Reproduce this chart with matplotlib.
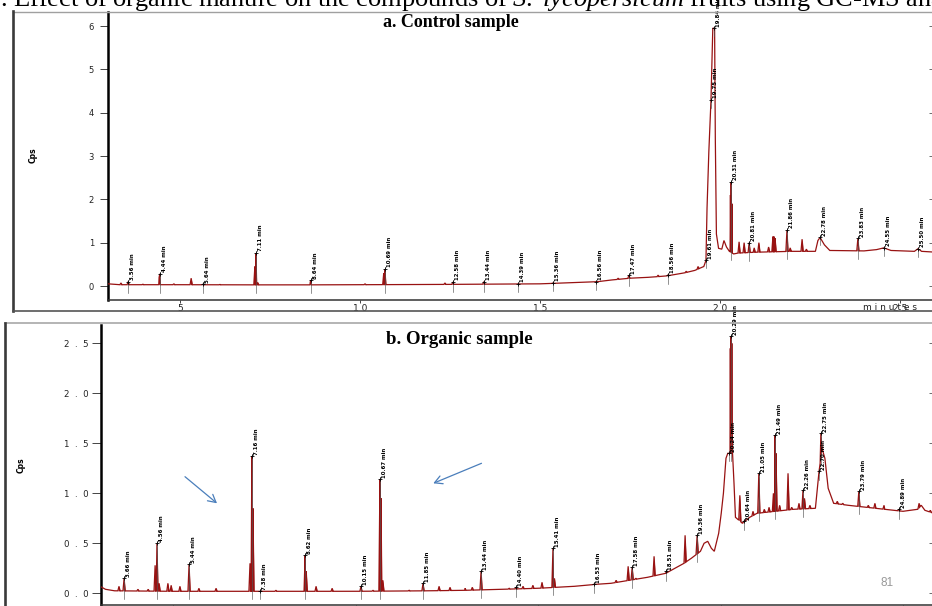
import numpy as np
import matplotlib
matplotlib.use("Agg")
import matplotlib.pyplot as plt
from matplotlib.lines import Line2D

# ---------------- data ----------------
# Panel a (control): broad envelope of the trace (minutes, Cps)
a_prof_t = [3.00, 3.30, 5.00, 8.00, 10.0, 12.0, 13.0, 14.0, 15.0, 16.0, 16.6, 17.0, 17.5,
            18.0, 18.5, 19.0, 19.3, 19.55, 19.61, 19.64, 19.69, 19.75, 19.80, 19.85, 19.87,
            19.90, 19.96, 20.05, 20.11, 20.18, 20.26, 20.38, 20.50, 21.0, 22.0, 22.65, 22.72,
            22.78, 22.90, 23.05, 24.0, 24.35, 24.55, 24.75, 25.40, 25.50, 25.60, 26.0]
a_prof_v = [0.05, 0.03, 0.03, 0.025, 0.03, 0.035, 0.04, 0.045, 0.05, 0.08, 0.10, 0.14, 0.18,
            0.20, 0.23, 0.30, 0.36, 0.45, 0.59, 1.80, 3.10, 4.30, 5.95, 5.95, 3.40,
            1.20, 0.87, 0.85, 1.05, 0.90, 0.80, 0.74, 0.76, 0.78, 0.80, 0.80, 1.05,
            1.12, 0.95, 0.82, 0.81, 0.84, 0.88, 0.82, 0.80, 0.86, 0.80, 0.78]
# Panel a: sharp peaks (retention time, apex)
a_peak_t = [3.36, 3.56, 3.97, 4.42, 4.44, 4.83, 5.31, 5.64, 6.11, 7.08, 7.11, 7.16, 8.62,
            8.64, 10.14, 10.66, 10.69, 12.36, 12.58, 13.44, 14.39, 15.36, 16.56, 17.17,
            17.47, 18.28, 18.56, 19.06, 19.39, 20.29, 20.31, 20.33, 20.53, 20.67, 20.81,
            20.95, 21.08, 21.35, 21.47, 21.50, 21.53, 21.86, 21.95, 22.28, 22.40, 23.83]
a_peak_v = [0.07, 0.10, 0.04, 0.20, 0.28, 0.05, 0.18, 0.04, 0.035, 0.45, 0.76, 0.08, 0.10,
            0.13, 0.05, 0.30, 0.39, 0.07, 0.09, 0.10, 0.05, 0.07, 0.10, 0.18,
            0.25, 0.25, 0.26, 0.34, 0.45, 2.10, 2.40, 1.90, 1.02, 1.00, 1.00,
            0.88, 1.00, 0.90, 1.14, 1.14, 1.10, 1.29, 0.88, 1.08, 0.85, 1.10]
a_labels = [3.56, 4.44, 5.64, 7.11, 8.64, 10.69, 12.58, 13.44, 14.39, 15.36, 16.56, 17.47,
            18.56, 19.61, 19.75, 19.84, 20.31, 20.81, 21.86, 22.78, 23.83, 24.55, 25.50]

# Panel b (organic)
b_prof_t = [3.00, 3.15, 3.40, 5.00, 8.00, 10.0, 12.0, 13.0, 14.0, 15.0, 16.0, 16.6, 17.0,
            17.5, 18.0, 18.5, 18.8, 19.0, 19.2, 19.45, 19.55, 19.65, 19.75, 19.83, 19.95,
            20.02, 20.08, 20.15, 20.20, 20.33, 20.37, 20.41, 20.60, 20.80, 21.0, 21.5, 22.0,
            22.6, 22.68, 22.78, 22.86, 22.95, 23.1, 23.5, 24.0, 24.5, 25.0, 25.4, 25.5, 25.6, 26.0]
b_prof_v = [0.07, 0.04, 0.025, 0.02, 0.02, 0.02, 0.025, 0.03, 0.04, 0.05, 0.07, 0.09, 0.10,
            0.13, 0.16, 0.20, 0.26, 0.30, 0.35, 0.42, 0.50, 0.52, 0.45, 0.42, 0.60,
            0.80, 1.00, 1.35, 1.40, 1.40, 1.10, 0.76, 0.70, 0.76, 0.80, 0.82, 0.84,
            0.85, 1.15, 1.45, 1.35, 1.05, 0.90, 0.88, 0.86, 0.84, 0.82, 0.84, 0.88, 0.83, 0.78]
b_peak_t = [3.52, 3.66, 4.04, 4.32, 4.51, 4.56, 4.62, 4.86, 4.95, 5.19, 5.44, 5.71, 6.18,
            7.11, 7.16, 7.19, 7.82, 8.62, 8.65, 8.92, 9.36, 9.79, 10.15, 10.48, 10.67,
            10.70, 10.75, 11.47, 11.85, 12.29, 12.59, 13.00, 13.20, 13.44, 13.93, 14.21,
            14.40, 14.59, 14.86, 15.11, 15.41, 15.45, 16.21, 16.53, 17.14, 17.47, 17.58,
            17.68, 18.18, 18.51, 19.03, 19.36, 20.27, 20.29, 20.31, 20.53, 20.64, 20.89,
            21.05, 21.20, 21.33, 21.45, 21.49, 21.52, 21.62, 21.85, 21.95, 22.07, 22.15,
            22.26, 22.30, 22.45, 22.70, 22.75, 23.20, 23.35, 23.79, 24.05, 24.23, 24.48,
            24.89, 25.44, 25.75]
b_peak_v = [0.07, 0.15, 0.04, 0.04, 0.28, 0.50, 0.10, 0.10, 0.08, 0.07, 0.29, 0.05, 0.05,
            0.30, 1.37, 0.85, 0.03, 0.38, 0.22, 0.07, 0.05, 0.02, 0.07, 0.03, 1.14,
            0.95, 0.13, 0.03, 0.10, 0.07, 0.06, 0.05, 0.06, 0.22, 0.04, 0.05,
            0.06, 0.07, 0.08, 0.11, 0.45, 0.15, 0.06, 0.09, 0.13, 0.27, 0.26,
            0.15, 0.37, 0.22, 0.58, 0.58, 2.45, 2.57, 2.50, 0.98, 0.72, 0.82,
            1.20, 0.84, 0.86, 1.00, 1.58, 1.40, 0.88, 1.20, 0.86, 0.83, 0.90,
            1.03, 0.95, 0.88, 1.22, 1.60, 0.92, 0.90, 1.02, 0.88, 0.90, 0.88,
            0.84, 0.90, 0.83]
b_labels = [3.66, 4.56, 5.44, 7.16, 7.38, 8.62, 10.15, 10.67, 11.85, 13.44, 14.40, 15.41,
            16.53, 17.58, 18.51, 19.36, 20.24, 20.29, 20.64, 21.05, 21.49, 22.26, 22.70,
            22.75, 23.79, 24.89]

x_ticks = [5, 10, 15, 20, 25]
x_ticklabels = ["5", "1 0", "1 5", "2 0", "2 5"]
a_yticks = [0, 1, 2, 3, 4, 5, 6]
a_yticklabels = ["0", "1", "2", "3", "4", "5", "6"]
b_yticks = [0.0, 0.5, 1.0, 1.5, 2.0, 2.5]
b_yticklabels = ["0  .  0", "0  .  5", "1  .  0", "1  .  5", "2  .  0", "2  .  5"]

TRACE = "#981212"
W, H = 932, 606

plt.rcParams['mathtext.fontset'] = 'custom'
plt.rcParams['mathtext.rm'] = 'Liberation Serif'
plt.rcParams['mathtext.it'] = 'Liberation Serif:italic'

fig = plt.figure(figsize=(W / 100, H / 100), dpi=100)


def px_axes(l, t, r, b):
    return fig.add_axes([l / W, 1 - b / H, (r - l) / W, (b - t) / H])


def build_trace(prof_t, prof_v, pk_t, pk_v, hw=0.03):
    prof_t = np.asarray(prof_t, float)
    prof_v = np.asarray(prof_v, float)
    ts, vs = list(prof_t), list(prof_v)
    for t, v in zip(pk_t, pk_v):
        for dt in (-hw, hw):
            ts.append(t + dt)
            vs.append(np.interp(t + dt, prof_t, prof_v))
        ts.append(t)
        vs.append(max(v, np.interp(t, prof_t, prof_v)))
    order = np.argsort(ts, kind="stable")
    return np.array(ts)[order], np.array(vs)[order]


def style_axes(ax, xlim, ylim, yticks, yticklabels, ytick_len, ypad, ylabfs):
    ax.set_xlim(*xlim)
    ax.set_ylim(*ylim)
    for s in ("top", "right"):
        ax.spines[s].set_visible(False)
    ax.spines["left"].set_linewidth(1.8)
    ax.spines["bottom"].set_linewidth(1.1)
    ax.spines["bottom"].set_color("#333333")
    ax.set_yticks(yticks)
    ax.set_yticklabels(yticklabels, fontsize=ylabfs, color="#222222")
    ax.tick_params(axis="y", direction="out", length=ytick_len, width=0.7, pad=ypad,
                   color="#444444")
    ax.set_xticks(x_ticks)
    ax.set_xticklabels(x_ticklabels, fontsize=6.5, color="#222222")
    ax.tick_params(axis="x", direction="out", length=2.5, width=0.7, pad=0.5,
                   color="#444444")
    ax2 = ax.twinx()
    ax2.set_ylim(*ylim)
    ax2.set_yticks(yticks)
    ax2.tick_params(axis="y", direction="in", length=4, width=0.6, labelright=False,
                    color="#555555")
    for s in ax2.spines.values():
        s.set_visible(False)


def draw_panel(ax, prof_t, prof_v, pk_t, pk_v, labels, px_per_unit):
    tt, vv = build_trace(prof_t, prof_v, pk_t, pk_v)
    base = np.interp(tt, prof_t, prof_v)
    ax.fill_between(tt, base, vv, color=TRACE, lw=0, zorder=2)
    ax.plot(tt, vv, color=TRACE, lw=0.9, zorder=3, solid_joinstyle="miter")
    for t in labels:
        hit = np.isclose(tt, t, atol=1e-6)
        v = vv[hit].max() if hit.any() else np.interp(t, tt, vv)
        b0 = np.interp(t, prof_t, prof_v)
        ax.plot([t, t], [v + 2 / px_per_unit, b0 - 8 / px_per_unit], color="#555555",
                lw=0.45, zorder=4, clip_on=False)
        ax.plot([t], [v], marker="+", color="k", ms=2.6, mew=0.6, zorder=5, clip_on=False)
        ax.annotate(f"{t:.2f} min", (t, v), xytext=(1.6, 1.2), textcoords="offset points",
                    rotation=90, fontsize=3.9, fontweight="bold", ha="left", va="bottom",
                    color="#000000", annotation_clip=False, zorder=6)


# ---------- panel a ----------
axa = px_axes(108, 12, 935, 300)
a_ppu = 43.33
style_axes(axa, (5 - 72 / 36.0, 5 + 755 / 36.0), ((286 - 300) / a_ppu, (286 - 12) / a_ppu),
           a_yticks, a_yticklabels, 6, 4, 6)
draw_panel(axa, a_prof_t, a_prof_v, a_peak_t, a_peak_v, a_labels, a_ppu)
axa.text(0.415, 0.962, "a. Control sample", transform=axa.transAxes, ha="center",
         va="center", fontsize=13, fontweight="bold", family="Liberation Serif")

# ---------- panel b ----------
axb = px_axes(101, 325, 935, 605)
b_ppu = 100.0
style_axes(axb, (5 - 72 / 36.5, 5 + 762 / 36.5), ((593.3 - 605) / b_ppu, (593.3 - 325) / b_ppu),
           b_yticks, b_yticklabels, 6.5, 2.5, 6.2)
draw_panel(axb, b_prof_t, b_prof_v, b_peak_t, b_peak_v, b_labels, b_ppu)
axb.text(0.43, 0.95, "b. Organic sample", transform=axb.transAxes, ha="center",
         va="center", fontsize=13.5, fontweight="bold", family="Liberation Serif")

# ---------- frame lines, labels ----------
def fline(x0, y0, x1, y1, color, lw):
    fig.add_artist(Line2D([x0 / W, x1 / W], [1 - y0 / H, 1 - y1 / H], color=color, lw=lw,
                          transform=fig.transFigure))

fline(13, 11.7, 932, 11.7, "#a0a0a0", 1.0)
fline(13, 11.2, 13, 310.7, "#3a3a3a", 1.9)
fline(13, 310.7, 932, 310.7, "#555555", 1.2)
fline(5, 323.3, 932, 323.3, "#a8a8a8", 1.2)
fline(5, 323, 5, 606, "#3a3a3a", 1.9)

fig.text(33 / W, 1 - 155 / H, "Cps", rotation=90, ha="center", va="center", fontsize=5.5,
         fontweight="bold")
fig.text(21 / W, 1 - 465 / H, "Cps", rotation=90, ha="center", va="center", fontsize=5.5,
         fontweight="bold")
fig.text(890 / W, 1 - 308 / H, "m i n u t e s", ha="center", va="center", fontsize=6.5,
         color="#222222")

fig.text(0.0, 1 - 6.0 / H,
         r". Effect of organic manure on the compounds of $\mathit{S.\ lycopersicum}$ fruits using GC-MS analysis",
         ha="left", va="baseline", fontsize=19, family="Liberation Serif")

fig.text(887 / W, 1 - 583 / H, "81", ha="center", va="center", fontsize=8.5,
         color="#999999", family="Liberation Sans")

arrow_kw = dict(arrowstyle="->,head_length=0.55,head_width=0.3", color="#4a7ebb", lw=0.9,
                shrinkA=0, shrinkB=0)
axb.annotate("", xy=(217, H - 503.3), xytext=(185, H - 476.7), xycoords="figure pixels",
             textcoords="figure pixels", arrowprops=arrow_kw)
axb.annotate("", xy=(433.3, H - 483.3), xytext=(481.5, H - 463.3), xycoords="figure pixels",
             textcoords="figure pixels", arrowprops=arrow_kw)

fig.savefig("out.png", dpi=100)
